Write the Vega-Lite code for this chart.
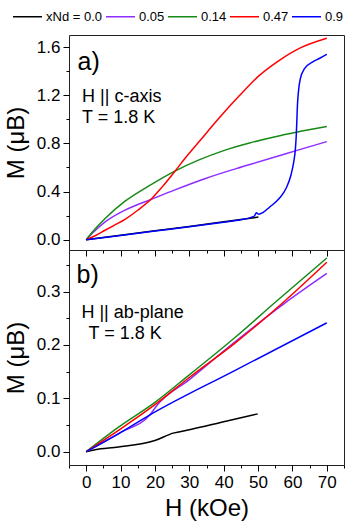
{
  "$schema": "https://vega.github.io/schema/vega-lite/v6.json",
  "padding": {"left": 3, "top": 1, "right": 5, "bottom": 0},
  "background": "white",
  "spacing": 0,
  "bounds": "flush",
  "config": {
    "font": "Liberation Sans",
    "view": {"stroke": "#222", "strokeWidth": 1},
    "axis": {
      "grid": false, "domain": false, "tickColor": "#000", "tickWidth": 1,
      "labelColor": "#000", "titleColor": "#000",
      "labelFont": "Liberation Sans", "titleFont": "Liberation Sans",
      "titleFontWeight": "normal", "labelFontSize": 17, "titleFontSize": 24,
      "labelPadding": 3
    },
    "legend": {
      "orient": "none", "direction": "horizontal", "legendX": -57, "legendY": -34,
      "symbolType": "stroke", "symbolSize": 841, "symbolStrokeWidth": 1.5,
      "labelFontSize": 13, "labelFont": "Liberation Sans", "labelColor": "#000",
      "labelOffset": 3, "columnPadding": 0, "title": null
    }
  },
  "datasets": {
    "top": [
      {"s": "xNd = 0.0", "H": 0, "M": 0},
      {"s": "xNd = 0.0", "H": 10, "M": 0.037},
      {"s": "xNd = 0.0", "H": 20, "M": 0.074},
      {"s": "xNd = 0.0", "H": 30, "M": 0.111},
      {"s": "xNd = 0.0", "H": 40, "M": 0.149},
      {"s": "xNd = 0.0", "H": 50.1, "M": 0.188},
      {"s": "0.05", "H": 0, "M": 0},
      {"s": "0.05", "H": 2, "M": 0.06},
      {"s": "0.05", "H": 5.5, "M": 0.148},
      {"s": "0.05", "H": 11.3, "M": 0.246},
      {"s": "0.05", "H": 19, "M": 0.336},
      {"s": "0.05", "H": 25.8, "M": 0.414},
      {"s": "0.05", "H": 34.5, "M": 0.507},
      {"s": "0.05", "H": 46.6, "M": 0.616},
      {"s": "0.05", "H": 61.1, "M": 0.74},
      {"s": "0.05", "H": 70, "M": 0.815},
      {"s": "0.14", "H": 0, "M": 0},
      {"s": "0.14", "H": 2, "M": 0.07},
      {"s": "0.14", "H": 5.5, "M": 0.176},
      {"s": "0.14", "H": 11.3, "M": 0.32},
      {"s": "0.14", "H": 19, "M": 0.46},
      {"s": "0.14", "H": 25.8, "M": 0.57},
      {"s": "0.14", "H": 33, "M": 0.665},
      {"s": "0.14", "H": 40, "M": 0.74},
      {"s": "0.14", "H": 47.5, "M": 0.803},
      {"s": "0.14", "H": 55, "M": 0.855},
      {"s": "0.14", "H": 61.1, "M": 0.892},
      {"s": "0.14", "H": 70, "M": 0.94},
      {"s": "0.47", "H": 0, "M": 0},
      {"s": "0.47", "H": 2, "M": 0.025},
      {"s": "0.47", "H": 5.5, "M": 0.079},
      {"s": "0.47", "H": 8, "M": 0.118},
      {"s": "0.47", "H": 11.3, "M": 0.17},
      {"s": "0.47", "H": 15, "M": 0.245},
      {"s": "0.47", "H": 19, "M": 0.34},
      {"s": "0.47", "H": 22, "M": 0.435},
      {"s": "0.47", "H": 25.8, "M": 0.568},
      {"s": "0.47", "H": 29, "M": 0.685},
      {"s": "0.47", "H": 33, "M": 0.82},
      {"s": "0.47", "H": 38.8, "M": 1.015},
      {"s": "0.47", "H": 44.6, "M": 1.197},
      {"s": "0.47", "H": 50.4, "M": 1.365},
      {"s": "0.47", "H": 56.2, "M": 1.49},
      {"s": "0.47", "H": 62, "M": 1.589},
      {"s": "0.47", "H": 70, "M": 1.673},
      {"s": "0.9", "H": 0, "M": 0},
      {"s": "0.9", "H": 10, "M": 0.036},
      {"s": "0.9", "H": 20, "M": 0.072},
      {"s": "0.9", "H": 30, "M": 0.108},
      {"s": "0.9", "H": 40, "M": 0.146},
      {"s": "0.9", "H": 45, "M": 0.166},
      {"s": "0.9", "H": 48, "M": 0.186},
      {"s": "0.9", "H": 49, "M": 0.2},
      {"s": "0.9", "H": 49.5, "M": 0.225},
      {"s": "0.9", "H": 50.2, "M": 0.212},
      {"s": "0.9", "H": 51.5, "M": 0.228},
      {"s": "0.9", "H": 53.3, "M": 0.27},
      {"s": "0.9", "H": 56.2, "M": 0.344},
      {"s": "0.9", "H": 58.2, "M": 0.43},
      {"s": "0.9", "H": 59.6, "M": 0.54},
      {"s": "0.9", "H": 60.4, "M": 0.65},
      {"s": "0.9", "H": 60.8, "M": 0.736},
      {"s": "0.9", "H": 61.1, "M": 0.86},
      {"s": "0.9", "H": 61.5, "M": 1.14},
      {"s": "0.9", "H": 61.9, "M": 1.27},
      {"s": "0.9", "H": 62.3, "M": 1.337},
      {"s": "0.9", "H": 63.5, "M": 1.42},
      {"s": "0.9", "H": 65.9, "M": 1.476},
      {"s": "0.9", "H": 67.8, "M": 1.505},
      {"s": "0.9", "H": 70, "M": 1.54}
    ],
    "bottom": [
      {"s": "xNd = 0.0", "H": 0, "M": 0},
      {"s": "xNd = 0.0", "H": 2.6, "M": 0.0037},
      {"s": "xNd = 0.0", "H": 9.4, "M": 0.0087},
      {"s": "xNd = 0.0", "H": 20, "M": 0.021},
      {"s": "xNd = 0.0", "H": 25.3, "M": 0.0347},
      {"s": "xNd = 0.0", "H": 30, "M": 0.041},
      {"s": "xNd = 0.0", "H": 40, "M": 0.056},
      {"s": "xNd = 0.0", "H": 49.9, "M": 0.0708},
      {"s": "0.05", "H": 0, "M": 0},
      {"s": "0.05", "H": 10, "M": 0.036},
      {"s": "0.05", "H": 18.55, "M": 0.069},
      {"s": "0.05", "H": 20.5, "M": 0.086},
      {"s": "0.05", "H": 30, "M": 0.135},
      {"s": "0.05", "H": 43.2, "M": 0.2055},
      {"s": "0.05", "H": 57.7, "M": 0.278},
      {"s": "0.05", "H": 70, "M": 0.334},
      {"s": "0.14", "H": 0, "M": 0},
      {"s": "0.14", "H": 9.4, "M": 0.046},
      {"s": "0.14", "H": 20, "M": 0.0925},
      {"s": "0.14", "H": 30, "M": 0.144},
      {"s": "0.14", "H": 43.2, "M": 0.2135},
      {"s": "0.14", "H": 55, "M": 0.28},
      {"s": "0.14", "H": 70, "M": 0.363},
      {"s": "0.47", "H": 0, "M": 0},
      {"s": "0.47", "H": 9.4, "M": 0.04},
      {"s": "0.47", "H": 20, "M": 0.088},
      {"s": "0.47", "H": 30, "M": 0.139},
      {"s": "0.47", "H": 43.2, "M": 0.203},
      {"s": "0.47", "H": 57.7, "M": 0.282},
      {"s": "0.47", "H": 70, "M": 0.355},
      {"s": "0.9", "H": 0, "M": 0},
      {"s": "0.9", "H": 9.4, "M": 0.0335},
      {"s": "0.9", "H": 18.55, "M": 0.069},
      {"s": "0.9", "H": 43.2, "M": 0.152},
      {"s": "0.9", "H": 70, "M": 0.2415}
    ],
    "topText": [
      {"t": "H || c-axis", "H": -1.2, "M": 1.141},
      {"t": "T = 1.8 K", "H": -1.2, "M": 0.973}
    ],
    "topTag": [{"t": "a)", "H": -2.5, "M": 1.407}],
    "bottomText": [
      {"t": "H || ab-plane", "H": -1.4, "M": 0.251},
      {"t": "T = 1.8 K", "H": 0.7, "M": 0.212}
    ],
    "bottomTag": [{"t": "b)", "H": -2.8, "M": 0.316}]
  },
  "vconcat": [
    {
      "width": 275, "height": 215,
      "encoding": {
        "x": {"field": "H", "type": "quantitative",
          "scale": {"domain": [-5, 75], "nice": false, "zero": false},
          "axis": {"title": null, "labels": false,
            "values": [-5, 0, 5, 10, 15, 20, 25, 30, 35, 40, 45, 50, 55, 60, 65, 70, 75],
            "tickSize": {"condition": {"test": "datum.value % 10 == 0", "value": 6}, "value": 3}}},
        "y": {"field": "M", "type": "quantitative",
          "scale": {"domain": [-0.085, 1.7], "nice": false, "zero": false},
          "axis": {"title": "M (μB)", "titlePadding": 8,
            "values": [0, 0.2, 0.4, 0.6, 0.8, 1.0, 1.2, 1.4, 1.6],
            "labelExpr": "round(datum.value*10) % 4 == 0 ? format(datum.value, '.1f') : ''",
            "tickSize": {"condition": {"test": "round(datum.value*10) % 4 == 0", "value": 6}, "value": 3}}}
      },
      "layer": [
        {
          "data": {"name": "top"},
          "mark": {"type": "line", "strokeWidth": 1.5, "clip": true, "interpolate": "monotone"},
          "encoding": {
            "color": {"field": "s", "type": "nominal",
              "scale": {"domain": ["xNd = 0.0", "0.05", "0.14", "0.47", "0.9"],
                        "range": ["#000000", "#8f2cff", "#168a16", "#ff0000", "#0000ff"]}}
          }
        },
        {
          "data": {"name": "topText"},
          "mark": {"type": "text", "fontSize": 18, "align": "left", "baseline": "alphabetic", "color": "#000"},
          "encoding": {"text": {"field": "t"}}
        },
        {
          "data": {"name": "topTag"},
          "mark": {"type": "text", "fontSize": 25, "align": "left", "baseline": "alphabetic", "color": "#000"},
          "encoding": {"text": {"field": "t"}}
        }
      ]
    },
    {
      "width": 275, "height": 215,
      "encoding": {
        "x": {"field": "H", "type": "quantitative",
          "scale": {"domain": [-5, 75], "nice": false, "zero": false},
          "axis": {"title": "H (kOe)", "titlePadding": 6,
            "values": [-5, 0, 5, 10, 15, 20, 25, 30, 35, 40, 45, 50, 55, 60, 65, 70, 75],
            "labelExpr": "datum.value % 10 == 0 && datum.value >= 0 ? format(datum.value, 'd') : ''",
            "tickSize": {"condition": {"test": "datum.value % 10 == 0", "value": 6}, "value": 3}}},
        "y": {"field": "M", "type": "quantitative",
          "scale": {"domain": [-0.025, 0.378], "nice": false, "zero": false},
          "axis": {"title": "M (μB)", "titlePadding": 8,
            "values": [0, 0.05, 0.1, 0.15, 0.2, 0.25, 0.3, 0.35],
            "labelExpr": "round(datum.value*100) % 10 == 0 ? format(datum.value, '.1f') : ''",
            "tickSize": {"condition": {"test": "round(datum.value*100) % 10 == 0", "value": 6}, "value": 3}}}
      },
      "layer": [
        {
          "data": {"name": "bottom"},
          "mark": {"type": "line", "strokeWidth": 1.5, "clip": true, "interpolate": "monotone"},
          "encoding": {
            "color": {"field": "s", "type": "nominal",
              "scale": {"domain": ["xNd = 0.0", "0.05", "0.14", "0.47", "0.9"],
                        "range": ["#000000", "#8f2cff", "#168a16", "#ff0000", "#0000ff"]}}
          }
        },
        {
          "data": {"name": "bottomText"},
          "mark": {"type": "text", "fontSize": 18, "align": "left", "baseline": "alphabetic", "color": "#000"},
          "encoding": {"text": {"field": "t"}}
        },
        {
          "data": {"name": "bottomTag"},
          "mark": {"type": "text", "fontSize": 25, "align": "left", "baseline": "alphabetic", "color": "#000"},
          "encoding": {"text": {"field": "t"}}
        }
      ]
    }
  ],
  "resolve": {"scale": {"color": "shared", "x": "independent", "y": "independent"}, "legend": {"color": "shared"}}
}
